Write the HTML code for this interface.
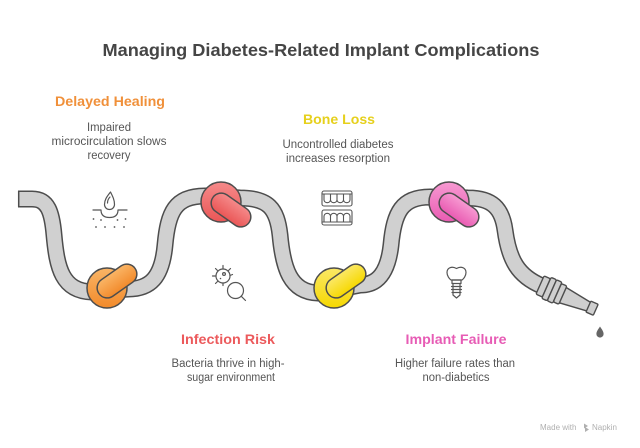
<!DOCTYPE html>
<html>
<head>
<meta charset="utf-8">
<style>
  html,body{margin:0;padding:0;background:#fff;}
  svg{display:block;}
  text{font-family:"Liberation Sans", Arial, sans-serif;}
</style>
</head>
<body>
<svg width="640" height="448" viewBox="0 0 640 448" xmlns="http://www.w3.org/2000/svg">
  <defs>
    <linearGradient id="gO" x1="0" y1="0" x2="0" y2="1">
      <stop offset="0" stop-color="#FAB566"/><stop offset="1" stop-color="#F28A2B"/>
    </linearGradient>
    <linearGradient id="gR" x1="0" y1="0" x2="0" y2="1">
      <stop offset="0" stop-color="#F58A8A"/><stop offset="1" stop-color="#EA5656"/>
    </linearGradient>
    <linearGradient id="gY" x1="0" y1="0" x2="0" y2="1">
      <stop offset="0" stop-color="#FBE866"/><stop offset="1" stop-color="#F6D800"/>
    </linearGradient>
    <linearGradient id="gP" x1="0" y1="0" x2="0" y2="1">
      <stop offset="0" stop-color="#F79AD2"/><stop offset="1" stop-color="#E95BB2"/>
    </linearGradient>
  </defs>

  <rect width="640" height="448" fill="#fff"/>

  <!-- Title -->
  <text x="321" y="56" text-anchor="middle" font-size="17.5" font-weight="bold" fill="#454545" textLength="437" lengthAdjust="spacingAndGlyphs">Managing Diabetes-Related Implant Complications</text>

  <!-- Delayed Healing -->
  <text x="110" y="106" text-anchor="middle" font-size="14" font-weight="bold" fill="#F0903A" textLength="110" lengthAdjust="spacingAndGlyphs">Delayed Healing</text>
  <text x="109" y="131" text-anchor="middle" font-size="11.5" fill="#555" textLength="44" lengthAdjust="spacingAndGlyphs">Impaired</text>
  <text x="109" y="145" text-anchor="middle" font-size="11.5" fill="#555" textLength="115" lengthAdjust="spacingAndGlyphs">microcirculation slows</text>
  <text x="109" y="159" text-anchor="middle" font-size="11.5" fill="#555" textLength="43" lengthAdjust="spacingAndGlyphs">recovery</text>

  <!-- Bone Loss -->
  <text x="339" y="124" text-anchor="middle" font-size="14" font-weight="bold" fill="#E6D01C" textLength="72" lengthAdjust="spacingAndGlyphs">Bone Loss</text>
  <text x="338" y="148" text-anchor="middle" font-size="11.5" fill="#555" textLength="111" lengthAdjust="spacingAndGlyphs">Uncontrolled diabetes</text>
  <text x="338" y="162" text-anchor="middle" font-size="11.5" fill="#555" textLength="104" lengthAdjust="spacingAndGlyphs">increases resorption</text>

  <!-- Infection Risk -->
  <text x="228" y="344" text-anchor="middle" font-size="14" font-weight="bold" fill="#EC5A5C" textLength="94" lengthAdjust="spacingAndGlyphs">Infection Risk</text>
  <text x="228" y="367" text-anchor="middle" font-size="11.5" fill="#555" textLength="113" lengthAdjust="spacingAndGlyphs">Bacteria thrive in high-</text>
  <text x="231" y="381" text-anchor="middle" font-size="11.5" fill="#555" textLength="88" lengthAdjust="spacingAndGlyphs">sugar environment</text>

  <!-- Implant Failure -->
  <text x="456" y="344" text-anchor="middle" font-size="14" font-weight="bold" fill="#E75CB5" textLength="101" lengthAdjust="spacingAndGlyphs">Implant Failure</text>
  <text x="455" y="367" text-anchor="middle" font-size="11.5" fill="#555" textLength="120" lengthAdjust="spacingAndGlyphs">Higher failure rates than</text>
  <text x="456" y="381" text-anchor="middle" font-size="11.5" fill="#555" textLength="67" lengthAdjust="spacingAndGlyphs">non-diabetics</text>

  <!-- Tube -->
  <g fill="none" stroke-linecap="butt" stroke-linejoin="round">
    <path d="M18 199 H32 C48 199 52 212 54 235 C57 268 62 291 92 292 L128 289 C150 289 162 278 165 245 C168 212 175 196 205 196 L240 198 C268 198 277 208 280 235 C283 268 290 292 318 293 L360 285 C378 285 388 272 391 245 C394 212 402 197 430 197 L468 198 C492 198 502 208 505 230 C509 260 518 276 542 286" stroke="#4d4d4d" stroke-width="17"/>
    <path d="M18 199 H32 C48 199 52 212 54 235 C57 268 62 291 92 292 L128 289 C150 289 162 278 165 245 C168 212 175 196 205 196 L240 198 C268 198 277 208 280 235 C283 268 290 292 318 293 L360 285 C378 285 388 272 391 245 C394 212 402 197 430 197 L468 198 C492 198 502 208 505 230 C509 260 518 276 542 286" stroke="#D0D0D0" stroke-width="14"/>
    <line x1="18.7" y1="191" x2="18.7" y2="207" stroke="#4d4d4d" stroke-width="1.5"/>
  </g>

  <!-- Nozzle -->
  <g transform="translate(540,285) rotate(24)" stroke="#4d4d4d" stroke-width="1.4" fill="#CFCFCF" stroke-linejoin="round">
    <path d="M24 -8.5 L55 -4.5 L55 4.5 L24 8.5 Z"/>
    <rect x="53" y="-6" width="8" height="12" rx="1"/>
    <rect x="0" y="-10" width="7" height="20" rx="1.5"/>
    <rect x="7" y="-11.5" width="6" height="23" rx="1.5"/>
    <rect x="13" y="-11.5" width="6" height="23" rx="1.5"/>
    <rect x="19" y="-10" width="6" height="20" rx="1.5"/>
  </g>
  <!-- Drop -->
  <path d="M600 326.5 C602 329.5 603.6 331.6 603.6 334 A3.6 3.6 0 0 1 596.4 334 C596.4 331.6 598 329.5 600 326.5 Z" fill="#666"/>

  <!-- Knots -->
  <g stroke="#4d4d4d" stroke-width="1.5">
    <circle cx="107" cy="288" r="20" fill="url(#gO)"/>
    <rect x="95" y="271" width="44" height="20" rx="10" fill="url(#gO)" transform="rotate(-35 117 281)"/>

    <circle cx="221" cy="202" r="20" fill="url(#gR)"/>
    <rect x="209" y="200" width="44" height="20" rx="10" fill="url(#gR)" transform="rotate(35 231 210)"/>

    <circle cx="334" cy="288" r="20" fill="url(#gY)"/>
    <rect x="324" y="271" width="44" height="20" rx="10" fill="url(#gY)" transform="rotate(-35 346 281)"/>

    <circle cx="449" cy="202" r="20" fill="url(#gP)"/>
    <rect x="437" y="200" width="44" height="20" rx="10" fill="url(#gP)" transform="rotate(35 459 210)"/>
  </g>

  <!-- Skin / drop icon -->
  <g stroke="#555" stroke-width="1.2" fill="none" stroke-linecap="round" stroke-linejoin="round">
    <path d="M110.5 192 C106.5 197 104.5 200 104.5 204.5 A5 5 0 0 0 114.5 204.5 C114.5 200 113 197 110.5 192 Z"/>
    <path d="M107.5 203 C107.5 200.5 108.5 198.5 110 197"/>
    <path d="M93 210 H101 C101 215.5 104.5 217.5 109.5 217.5 C114.5 217.5 118 215.5 118 210 H127"/>
  </g>
  <g fill="#555">
    <circle cx="93.5" cy="219" r="0.9"/><circle cx="101" cy="220" r="0.9"/><circle cx="117.5" cy="220" r="0.9"/><circle cx="125.5" cy="219" r="0.9"/>
    <circle cx="96" cy="227" r="0.9"/><circle cx="105" cy="227" r="0.9"/><circle cx="114.5" cy="227" r="0.9"/><circle cx="124" cy="227" r="0.9"/>
  </g>

  <!-- Bacteria / magnifier icon -->
  <g stroke="#555" stroke-width="1.2" fill="none" stroke-linecap="round">
    <circle cx="223" cy="276" r="7"/>
    <line x1="223" y1="269" x2="223" y2="265.5"/>
    <line x1="228.5" y1="270.5" x2="230.5" y2="268.5"/>
    <line x1="217.5" y1="270.5" x2="215.5" y2="268.5"/>
    <line x1="216" y1="276" x2="212.5" y2="276"/>
    <line x1="217.5" y1="281.5" x2="215.5" y2="283.5"/>
    <line x1="223" y1="283" x2="223" y2="285.5"/>
    <line x1="230" y1="275.5" x2="232.5" y2="274.5"/>
    <circle cx="224" cy="274" r="1.4"/>
    <circle cx="235.5" cy="290.5" r="8" fill="#fff"/>
    <line x1="241.3" y1="296.3" x2="245.5" y2="300.5"/>
  </g>
  <circle cx="220.5" cy="278.5" r="0.8" fill="#555"/>

  <!-- Teeth icon -->
  <g stroke="#555" stroke-width="1.1" fill="none" stroke-linejoin="round">
    <rect x="322" y="191" width="30" height="15" rx="2"/>
    <line x1="322" y1="194" x2="352" y2="194"/>
    <path d="M324 194 V200 A3.3 3.3 0 0 0 330.5 200 V194 M330.5 200 A3.3 3.3 0 0 0 337 200 V194 M337 200 A3.3 3.3 0 0 0 343.5 200 V194 M343.5 200 A3.3 3.3 0 0 0 350 200 V194"/>
    <rect x="322" y="210" width="30" height="15" rx="2"/>
    <line x1="322" y1="222" x2="352" y2="222"/>
    <path d="M324 222 V216 A3.3 3.3 0 0 1 330.5 216 V222 M330.5 216 A3.3 3.3 0 0 1 337 216 V222 M337 216 A3.3 3.3 0 0 1 343.5 216 V222 M343.5 216 A3.3 3.3 0 0 1 350 216 V222"/>
  </g>

  <!-- Implant icon -->
  <g stroke="#555" stroke-width="1.2" fill="none" stroke-linejoin="round" stroke-linecap="round">
    <path d="M447 272.5 C447 267.5 452 266 456.5 268.5 C461 266 466 267.5 466 272.5 C466 276 463.5 279 462 280 L451 280 C449.5 279 447 276 447 272.5 Z"/>
    <rect x="452" y="280" width="9" height="3.5"/>
    <path d="M453 283.5 V295 L456.5 298 L460 295 V283.5"/>
    <line x1="451.5" y1="286.5" x2="461.5" y2="286.5"/>
    <line x1="451.5" y1="289.5" x2="461.5" y2="289.5"/>
    <line x1="452" y1="292.5" x2="461" y2="292.5"/>
  </g>

  <!-- Made with Napkin -->
  <text x="540" y="430" font-size="8" fill="#b0b0b0">Made with</text>
  <g fill="#b0b0b0">
    <path d="M584 423.5 L588 426 L584 428.5 Z"/>
    <path d="M585 427 L589 429.5 L585 432 Z"/>
  </g>
  <text x="592" y="430" font-size="8" fill="#b0b0b0">Napkin</text>
</svg>
</body>
</html>
